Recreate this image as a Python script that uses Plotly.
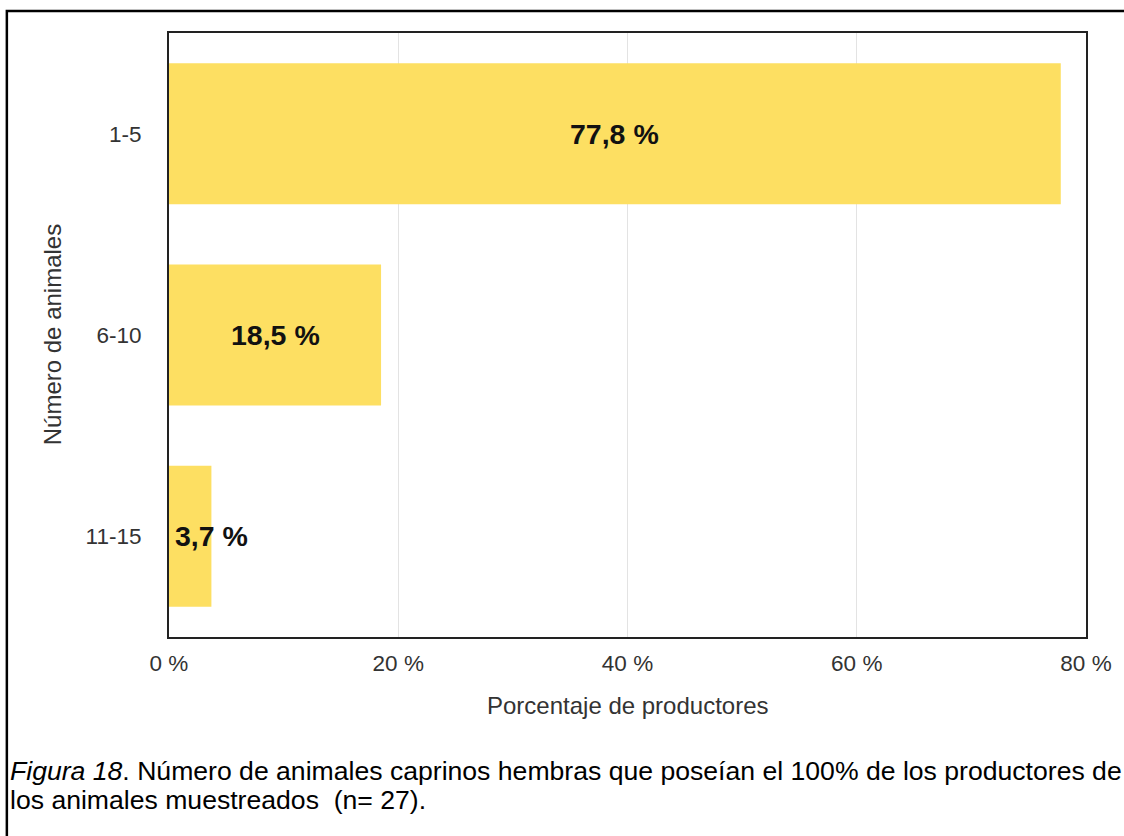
import plotly.graph_objects as go

categories = ["1-5", "6-10", "11-15"]
values = [77.8, 18.5, 3.7]
value_labels = ["77,8 %", "18,5 %", "3,7 %"]
x_ticks = [0, 20, 40, 60, 80]
x_tick_labels = ["0 %", "20 %", "40 %", "60 %", "80 %"]

W, H = 1124, 836
L, R, T, B = 169, 36, 33, 199
pw, ph = W - L - R, H - T - B

def px_x(px):
    return (px - L) / pw

def px_y(py):
    return 1 - (py - T) / ph

FONT = "Arial, Liberation Sans, Helvetica, sans-serif"

fig = go.Figure()
fig.add_trace(go.Bar(
    x=values, y=categories, orientation="h",
    marker=dict(color="#FDDF62", line=dict(width=0)),
    hoverinfo="skip",
))

annotations = []
for cat, v, lab in zip(categories, values, value_labels):
    if v < 10:
        annotations.append(dict(x=0, y=cat, xref="x", yref="y", text=lab, showarrow=False,
                                xanchor="left", xshift=4,
                                font=dict(family=FONT, size=28.5, color="#111111", weight="bold")))
    else:
        annotations.append(dict(x=v / 2, y=cat, xref="x", yref="y", text=lab, showarrow=False,
                                xanchor="center",
                                font=dict(family=FONT, size=28.5, color="#111111", weight="bold")))

# axis titles
annotations.append(dict(x=px_x(52), y=0.5, xref="paper", yref="paper", text="Número de animales",
                        textangle=-90, showarrow=False, xanchor="center", yanchor="middle",
                        font=dict(family=FONT, size=24, color="#333333")))
annotations.append(dict(x=0.5, y=px_y(705), xref="paper", yref="paper", text="Porcentaje de productores",
                        showarrow=False, xanchor="center", yanchor="middle",
                        font=dict(family=FONT, size=24, color="#333333")))
# caption
annotations.append(dict(x=px_x(8), y=px_y(771), xref="paper", yref="paper",
                        text="<i>Figura 18</i>. Número de animales caprinos hembras que poseían el 100% de los productores de",
                        showarrow=False, xanchor="left", yanchor="middle",
                        font=dict(family=FONT, size=26.6, color="#000000")))
annotations.append(dict(x=px_x(8), y=px_y(800), xref="paper", yref="paper",
                        text="los animales muestreados  (n= 27).",
                        showarrow=False, xanchor="left", yanchor="middle",
                        font=dict(family=FONT, size=26.6, color="#000000")))

shapes = [dict(type="rect", xref="paper", yref="paper",
               x0=px_x(6.5), x1=px_x(W + 20), y0=px_y(11), y1=px_y(H + 20),
               line=dict(color="#000000", width=2.5), fillcolor="rgba(0,0,0,0)", layer="above")]

fig.update_layout(
    width=W, height=H,
    margin=dict(l=L, r=R, t=T, b=B, pad=0),
    paper_bgcolor="white", plot_bgcolor="white",
    showlegend=False,
    bargap=0.3,
    annotations=annotations,
    shapes=shapes,
    font=dict(family=FONT, size=22, color="#333333"),
    xaxis=dict(range=[0, 80], tickvals=x_ticks, ticktext=x_tick_labels,
               showgrid=True, gridcolor="#e3e3e3", gridwidth=1,
               showline=True, linecolor="#222222", linewidth=2, mirror=True,
               zeroline=False, ticks="", ticklabelstandoff=5,
               tickfont=dict(family=FONT, size=22.5, color="#333333"), fixedrange=True),
    yaxis=dict(categoryorder="array", categoryarray=categories, autorange="reversed",
               showgrid=False, showline=True, linecolor="#222222", linewidth=2, mirror=True,
               zeroline=False, ticks="", ticklabelstandoff=21,
               tickfont=dict(family=FONT, size=22.5, color="#333333"), fixedrange=True),
)

fig.write_html("out.html", config={"displayModeBar": False})
